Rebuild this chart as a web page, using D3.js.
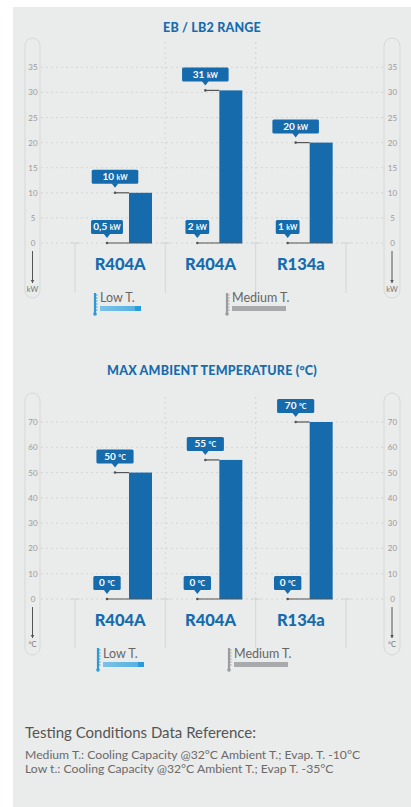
<!DOCTYPE html>
<html><head><meta charset="utf-8">
<script src="https://cdn.jsdelivr.net/npm/d3@7"></script>
<style>
html,body{margin:0;padding:0;background:#fff;}
svg{display:block;font-family:Lato,"Open Sans",sans-serif;}
</style></head>
<body>
<svg id="c" width="411" height="807"></svg>
<script>
// ---------- data ----------
const categories = ["R404A", "R404A", "R134a"];
const legendSeries = ["Low T.", "Medium T."];
const capacityMax = [10, 30.4, 20];
const capacityMaxText = ["10", "31", "20"];
const capacityMinText = ["0,5", "2", "1"];
const capacityTicks = [0, 5, 10, 15, 20, 25, 30, 35];
const tempMax = [50, 55, 70];
const tempMaxText = ["50", "55", "70"];
const tempMinText = ["0", "0", "0"];
const tempTicks = [0, 10, 20, 30, 40, 50, 60, 70];
const footerTitle = "Testing Conditions Data Reference:";
const footerLines = [
  "Medium T.: Cooling Capacity @32°C Ambient T.; Evap. T. -10°C",
  "Low t.: Cooling Capacity @32°C Ambient T.; Evap T. -35°C"
];

const BLUE = "#166bad";
const svg = d3.select("#c");

// panel background
svg.append("rect").attr("x", 13).attr("y", 7).attr("width", 398).attr("height", 800).attr("fill", "#eaebeb");

const x = d3.scaleBand().domain(d3.range(categories.length)).range([75, 346]).padding(0);

function thermo(g, cx, y0, y1, color) {
  g.append("line").attr("x1", cx).attr("x2", cx).attr("y1", y0).attr("y2", y1)
    .attr("stroke", color).attr("stroke-width", 2.2);
  for (let yy = y0 + 2; yy < y1 - 3; yy += 3) {
    g.append("line").attr("x1", cx).attr("x2", cx + 2.5).attr("y1", yy).attr("y2", yy)
      .attr("stroke", color).attr("stroke-width", 1);
  }
  g.append("circle").attr("cx", cx).attr("cy", y1).attr("r", 1.8).attr("fill", color);
}

function drawChart(opt) {
  const g = svg.append("g");
  const y = d3.scaleLinear().domain([0, opt.max]).range([opt.y0, opt.yTop]);

  // title
  g.append("text").attr("x", 212).attr("y", opt.titleY).attr("text-anchor", "middle")
    .attr("fill", BLUE).attr("font-weight", 900).attr("font-size", 12.5).attr("letter-spacing", 0.2)
    .text(opt.title);

  // pills
  [[25, 40], [384, 400]].forEach(([a, b]) => {
    g.append("rect").attr("x", a).attr("y", opt.pillTop).attr("width", b - a)
      .attr("height", opt.pillBottom - opt.pillTop).attr("rx", (b - a) / 2)
      .attr("fill", "none").attr("stroke", "#d6d7d7").attr("stroke-width", 1);
    const cx = (a + b) / 2;
    g.selectAll(null).data(opt.ticks).enter().append("text")
      .attr("x", cx + 0.5).attr("y", d => y(d) + 3).attr("text-anchor", "middle")
      .attr("font-size", 8).attr("fill", "#9a9a9a").text(d => d);
    g.append("line").attr("x1", cx).attr("x2", cx).attr("y1", opt.arrowTop).attr("y2", opt.arrowBottom)
      .attr("stroke", "#555").attr("stroke-width", 1);
    g.append("path").attr("d", `M${cx - 1.8},${opt.arrowBottom - 3}L${cx + 1.8},${opt.arrowBottom - 3}L${cx},${opt.arrowBottom}Z`).attr("fill", "#555");
    g.append("text").attr("x", cx).attr("y", opt.arrowBottom + 9).attr("text-anchor", "middle")
      .attr("font-size", 7.5).attr("fill", "#777").text(opt.unit);
  });

  // gridlines
  g.selectAll(null).data(opt.ticks).enter().append("line")
    .attr("x1", 41).attr("x2", 383).attr("y1", d => y(d)).attr("y2", d => y(d))
    .attr("stroke", "#cfd0d0").attr("stroke-width", 0.8).attr("stroke-dasharray", "2,3");

  // separators
  const inner = x.domain().slice(1).map(i => x(i));
  g.selectAll(null).data(inner).enter().append("line")
    .attr("x1", d => d).attr("x2", d => d).attr("y1", opt.sepTop).attr("y2", opt.y0)
    .attr("stroke", "#cfd0d0").attr("stroke-width", 0.8).attr("stroke-dasharray", "2,3");
  const all = [x.range()[0]].concat(inner, [x.range()[1]]);
  g.selectAll(null).data(all).enter().append("line")
    .attr("x1", d => d).attr("x2", d => d).attr("y1", opt.y0).attr("y2", opt.sepBottom)
    .attr("stroke", "#cfd0d0").attr("stroke-width", 0.8);
  g.selectAll(null).data(all).enter().append("line")
    .attr("x1", d => d - 5).attr("x2", d => d + 5).attr("y1", opt.y0).attr("y2", opt.y0)
    .attr("stroke", "#cfd0d0").attr("stroke-width", 0.8);

  // bars
  const barW = 23, barOff = 54;
  g.selectAll(null).data(opt.values).enter().append("rect")
    .attr("x", (d, i) => x(i) + barOff).attr("width", barW)
    .attr("y", d => y(d)).attr("height", d => y(0) - y(d)).attr("fill", BLUE);

  // markers + callouts
  function callout(i, yv, offset, txt, pad) {
    const bx = x(i) + barOff;
    const mx = bx - offset;
    g.append("line").attr("x1", mx).attr("x2", bx + (offset > 16 ? barW : 0)).attr("y1", yv).attr("y2", yv)
      .attr("stroke", "#555").attr("stroke-width", 1.2);
    g.append("circle").attr("cx", mx).attr("cy", yv).attr("r", 1.3).attr("fill", "#555");
    const boxB = yv - 9, h = 14;
    const bg = g.append("g");
    const rect = bg.append("rect").attr("y", boxB - h).attr("height", h).attr("rx", 1.5).attr("fill", BLUE);
    const t = bg.append("text").attr("y", boxB - 3.8).attr("fill", "#fff").attr("font-weight", 700).attr("font-size", 10).attr("text-anchor", "middle");
    t.append("tspan").text(txt);
    t.append("tspan").attr("font-size", 7).attr("dx", 2.5).text(opt.unit);
    const tw = t.node().getComputedTextLength();
    const w = tw + 2 * pad;
    rect.attr("x", mx - w / 2).attr("width", w);
    t.attr("x", mx);
    bg.append("path").attr("d", `M${mx - 3.5},${boxB - 0.5}L${mx + 3.5},${boxB - 0.5}L${mx},${boxB + 4}Z`).attr("fill", BLUE);
  }
  opt.values.forEach((v, i) => {
    callout(i, y(0), 22, opt.minText[i], opt.minPad);
    callout(i, y(v), 14, opt.maxText[i], opt.maxPad);
  });

  // category labels
  g.selectAll(null).data(categories).enter().append("text")
    .attr("x", (d, i) => x(i) + x.bandwidth() / 2).attr("y", opt.catY).attr("text-anchor", "middle")
    .attr("fill", BLUE).attr("font-weight", 900).attr("font-size", 16.5).text(d => d);

  // legend
  const L = opt.legend;
  thermo(g, L.lowIcon, L.iconTop, L.iconBottom, "#2c9ad6");
  g.append("text").attr("x", L.lowIcon + 5).attr("y", L.textY).attr("font-size", 12.5).attr("fill", "#666").text(legendSeries[0]);
  const grad = svg.append("defs").append("linearGradient").attr("id", "lg" + opt.id);
  grad.append("stop").attr("offset", "0%").attr("stop-color", "#7cc1e6");
  grad.append("stop").attr("offset", "85%").attr("stop-color", "#55b2e3");
  grad.append("stop").attr("offset", "85%").attr("stop-color", "#2a9ad8");
  grad.append("stop").attr("offset", "100%").attr("stop-color", "#2a9ad8");
  g.append("rect").attr("x", L.lowIcon + 5).attr("y", L.barY).attr("width", 41).attr("height", 5).attr("fill", `url(#lg${opt.id})`);
  thermo(g, L.medIcon, L.iconTop, L.iconBottom, "#9b9c9d");
  g.append("text").attr("x", L.medIcon + 5).attr("y", L.textY).attr("font-size", 12.5).attr("fill", "#666").text(legendSeries[1]);
  g.append("rect").attr("x", L.medIcon + 5).attr("y", L.barY).attr("width", 54).attr("height", 5).attr("fill", "#a9aaab");
}

drawChart({
  id: 1, title: "EB / LB2 RANGE", titleY: 32, max: 35, y0: 243, yTop: 67.3,
  ticks: capacityTicks, unit: "kW", values: capacityMax, maxText: capacityMaxText, minText: capacityMinText,
  minPad: 3.5, maxPad: 12,
  pillTop: 38, pillBottom: 298, arrowTop: 251, arrowBottom: 283,
  sepTop: 42, sepBottom: 293, catY: 270,
  legend: { lowIcon: 95, medIcon: 227, iconTop: 293, iconBottom: 314, textY: 302, barY: 306 }
});

drawChart({
  id: 2, title: "MAX AMBIENT TEMPERATURE (°C)", titleY: 375, max: 70, y0: 599, yTop: 422,
  ticks: tempTicks, unit: "°C", values: tempMax, maxText: tempMaxText, minText: tempMinText,
  minPad: 7, maxPad: 9,
  pillTop: 393, pillBottom: 655, arrowTop: 607, arrowBottom: 638,
  sepTop: 397, sepBottom: 648, catY: 626,
  legend: { lowIcon: 98, medIcon: 229, iconTop: 648, iconBottom: 670, textY: 658, barY: 662 }
});

// footer
svg.append("text").attr("x", 25).attr("y", 738).attr("font-size", 15).attr("fill", "#555").text(footerTitle);
svg.selectAll(null).data(footerLines).enter().append("text")
  .attr("x", 25).attr("y", (d, i) => 759 + i * 14).attr("font-size", 12.2).attr("fill", "#6a6a6a").text(d => d);
</script>
</body></html>
